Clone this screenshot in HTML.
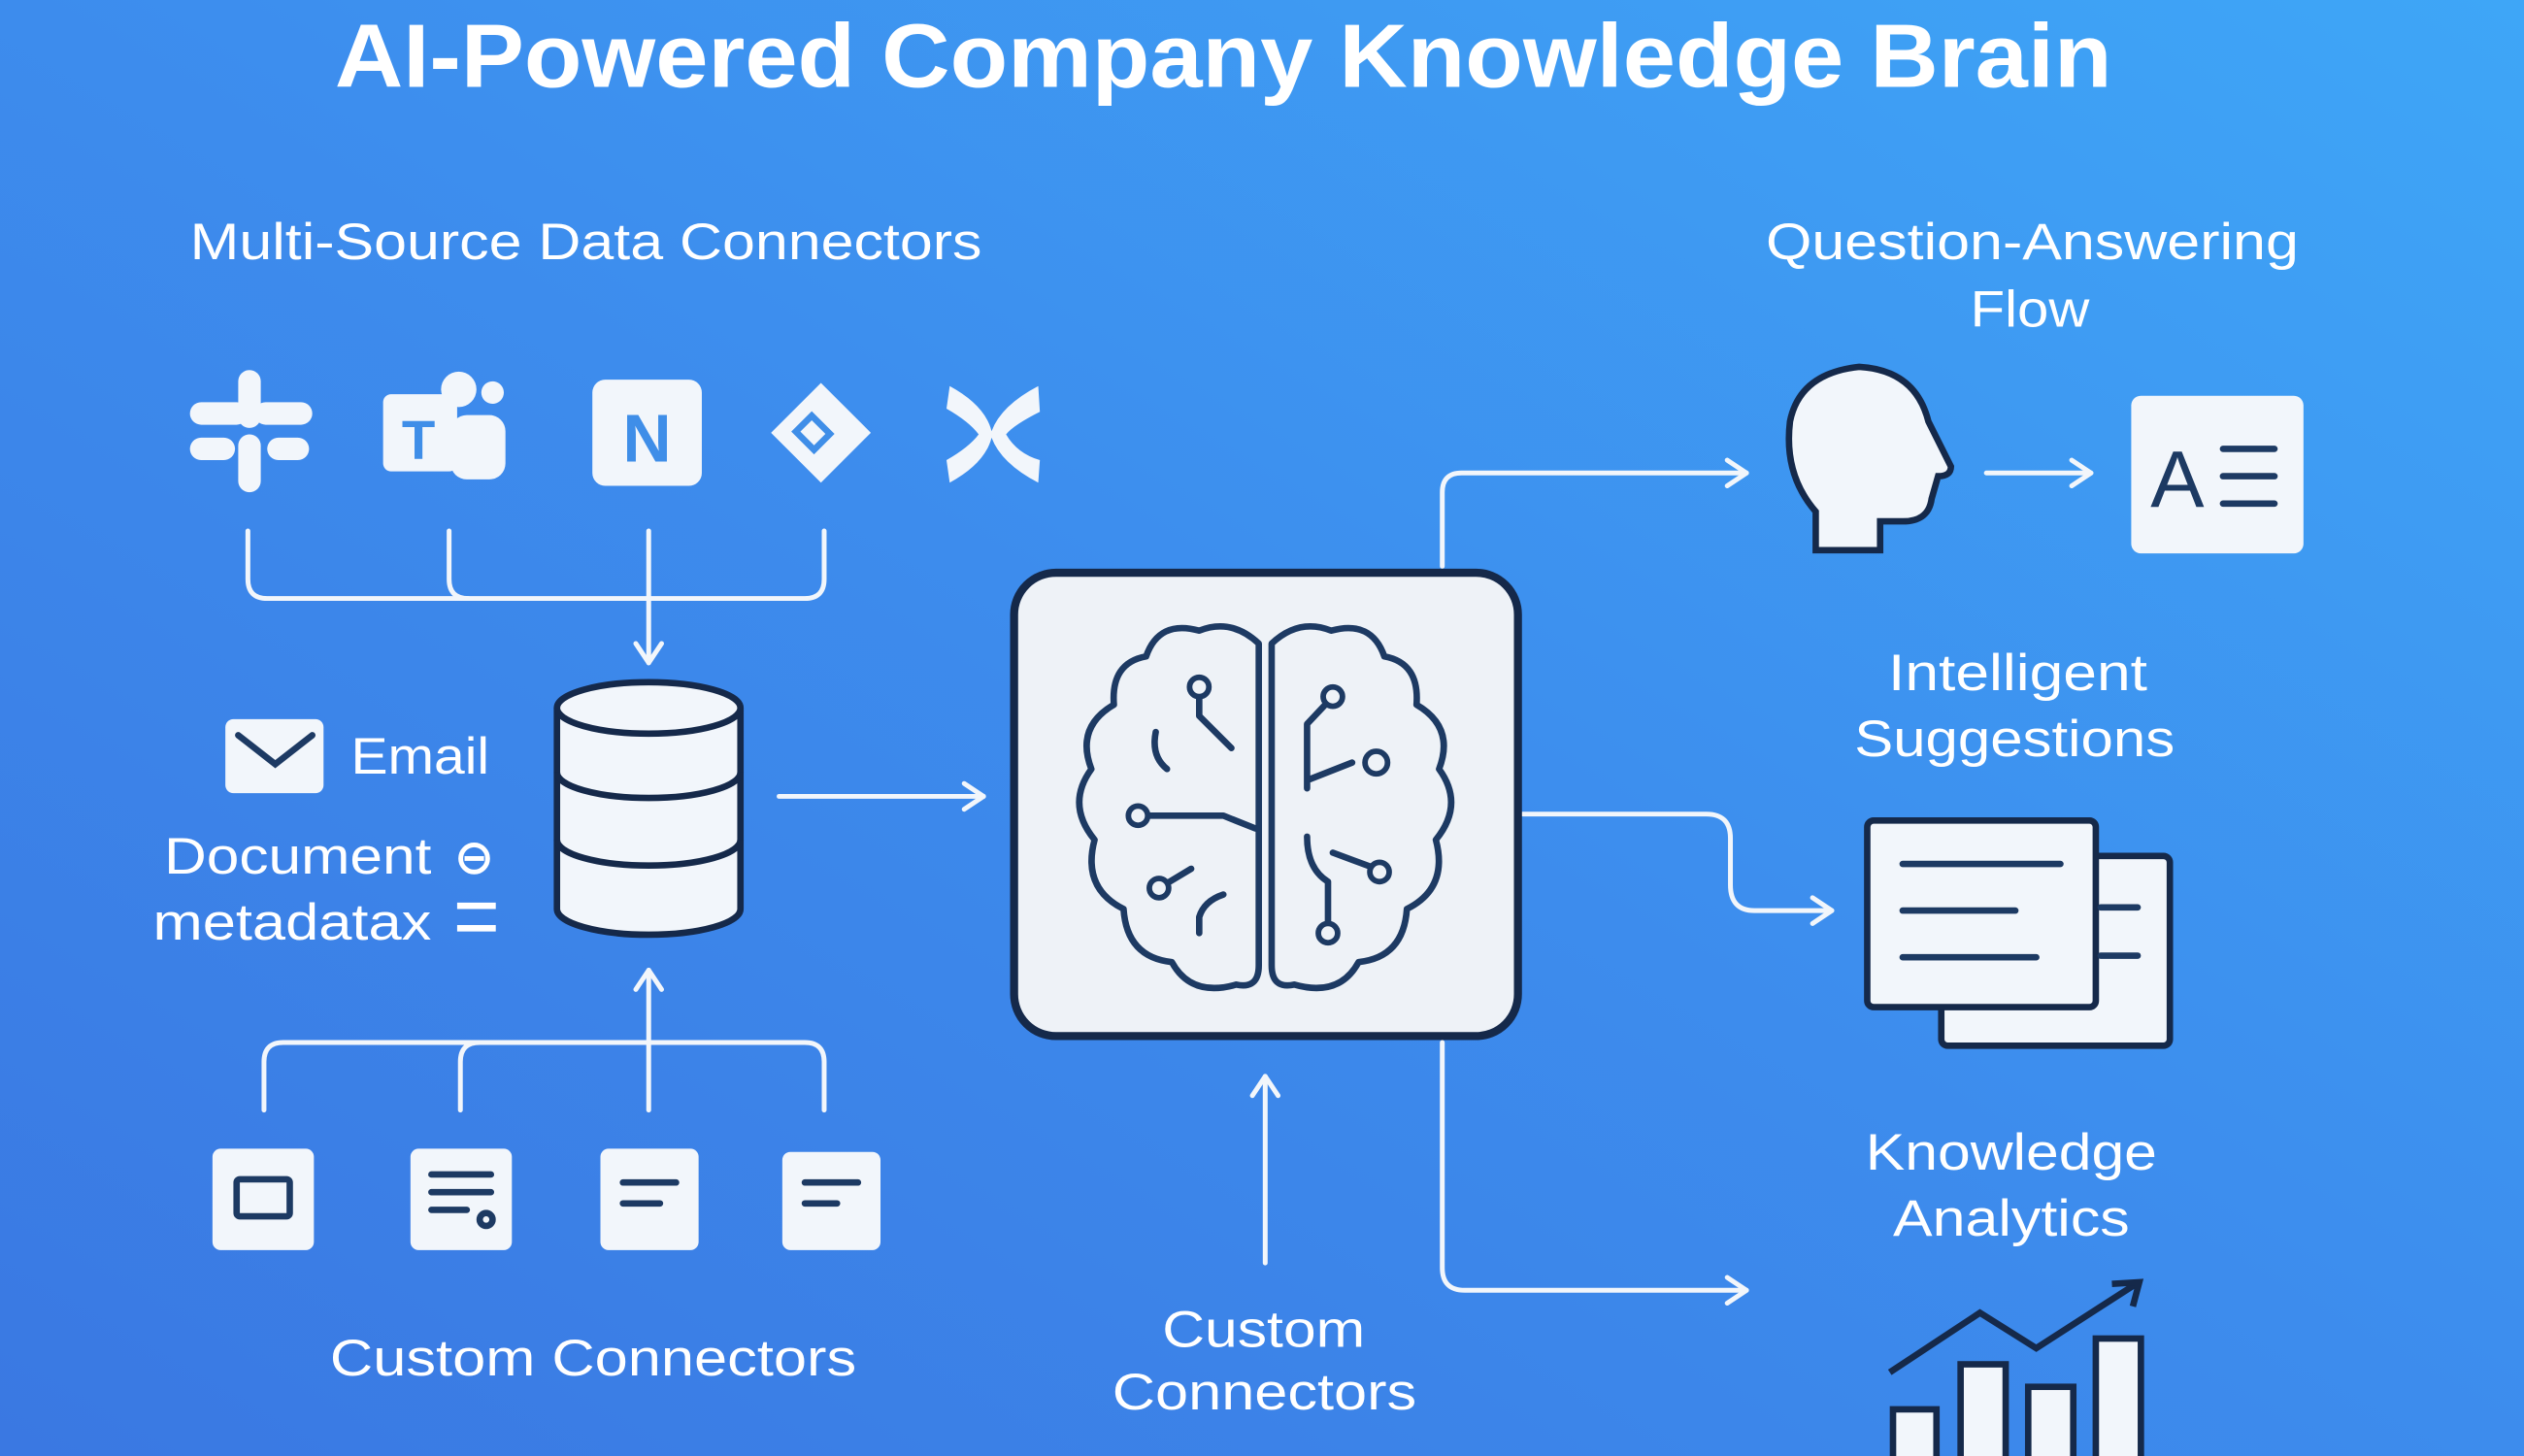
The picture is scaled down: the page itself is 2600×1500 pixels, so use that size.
<!DOCTYPE html>
<html><head><meta charset="utf-8"><style>
html,body{margin:0;padding:0;width:2600px;height:1500px;overflow:hidden}
svg{display:block}
text{font-family:"Liberation Sans","DejaVu Sans",sans-serif;fill:#fff}
</style></head><body>
<svg width="2600" height="1500" viewBox="0 0 1568 905" preserveAspectRatio="none" xmlns="http://www.w3.org/2000/svg">
<defs>
<linearGradient id="bg" x1="0" y1="1" x2="1" y2="0">
<stop offset="0" stop-color="#3a78e2"/><stop offset="0.5" stop-color="#3d8ced"/><stop offset="1" stop-color="#3ea6f7"/>
</linearGradient>
<marker id="ah" viewBox="0 0 16 20" refX="14" refY="10" markerWidth="16" markerHeight="20" markerUnits="userSpaceOnUse" orient="auto">
<path d="M2 2 L14 10 L2 18" fill="none" stroke="#f2f6fb" stroke-width="3" stroke-linecap="round" stroke-linejoin="round"/>
</marker>
</defs>
<rect width="1568" height="905" fill="url(#bg)"/>
<text x="208" y="54" font-size="56" font-weight="bold" textLength="1104" lengthAdjust="spacingAndGlyphs">AI-Powered Company Knowledge Brain</text>
<text x="118" y="161" font-size="32" textLength="492" lengthAdjust="spacingAndGlyphs">Multi-Source Data Connectors</text>
<text x="1097" y="161" font-size="32" textLength="331" lengthAdjust="spacingAndGlyphs">Question-Answering</text>
<text x="1224" y="203" font-size="32" textLength="74" lengthAdjust="spacingAndGlyphs">Flow</text>
<text x="1173" y="429" font-size="32" textLength="161" lengthAdjust="spacingAndGlyphs">Intelligent</text>
<text x="1152" y="470" font-size="32" textLength="199" lengthAdjust="spacingAndGlyphs">Suggestions</text>
<text x="1159" y="727" font-size="32" textLength="181" lengthAdjust="spacingAndGlyphs">Knowledge</text>
<text x="1176" y="768" font-size="32" textLength="147" lengthAdjust="spacingAndGlyphs">Analytics</text>
<text x="205" y="855" font-size="32" textLength="327" lengthAdjust="spacingAndGlyphs">Custom Connectors</text>
<text x="722" y="837" font-size="32" textLength="126" lengthAdjust="spacingAndGlyphs">Custom</text>
<text x="691" y="876" font-size="32" textLength="189" lengthAdjust="spacingAndGlyphs">Connectors</text>
<text x="218" y="481" font-size="32" textLength="86" lengthAdjust="spacingAndGlyphs">Email</text>
<text x="102" y="543" font-size="32" textLength="166" lengthAdjust="spacingAndGlyphs">Document</text>
<text x="95" y="584" font-size="32" textLength="173" lengthAdjust="spacingAndGlyphs">metadatax</text>

<g fill="#f2f6fb">
<rect x="148" y="230" width="14" height="36" rx="7"/><rect x="148" y="270" width="14" height="36" rx="7"/>
<rect x="118" y="250" width="36" height="14" rx="7"/><rect x="158" y="250" width="36" height="14" rx="7"/>
<rect x="118" y="272" width="28" height="14" rx="7"/><rect x="166" y="272" width="26" height="14" rx="7"/>
<rect x="238" y="245" width="46" height="48" rx="5"/><circle cx="285" cy="242" r="11"/><rect x="280" y="258" width="34" height="40" rx="10"/><circle cx="306" cy="244" r="7"/>
<rect x="368" y="236" width="68" height="66" rx="8"/>
<path d="M510 238 L541 269 L510 300 L479 269Z"/>
<path d="M590 240 Q612 252 616 268 Q622 252 645 240 L646 256 Q630 264 625 270 Q632 282 646 286 L645 300 Q622 288 616 272 Q612 288 590 300 L588 286 Q602 278 608 270 Q602 262 588 254Z"/>
<rect x="140" y="447" width="61" height="46" rx="5"/>
<rect x="132" y="714" width="63" height="63" rx="5"/>
<rect x="255" y="714" width="63" height="63" rx="5"/>
<rect x="373" y="714" width="61" height="63" rx="5"/>
<rect x="486" y="716" width="61" height="61" rx="5"/>
<rect x="1324" y="246" width="107" height="98" rx="6"/>
</g>
<text x="402" y="287" font-size="42" font-weight="bold" text-anchor="middle" style="fill:#3f8ee8">N</text>
<text x="260" y="285" font-size="34" font-weight="bold" text-anchor="middle" style="fill:#3f8ee8">T</text>
<text x="1336" y="315" font-size="50" style="fill:#1d3a63">A</text>
<g fill="none" stroke="#1d3a63" stroke-width="4" stroke-linecap="round">
<rect x="497" y="262" width="16" height="14" stroke="#3f8ee8" transform="rotate(45 505 269)"/>
<path d="M148 457 L171 475 L194 457"/>
<rect x="147" y="733" width="33" height="23" rx="2"/>
<path d="M268 730 H305 M268 741 H305 M268 752 H290"/><circle cx="302" cy="758" r="4"/>
<path d="M387 735 H420 M387 748 H410"/>
<path d="M500 735 H533 M500 748 H520"/>
<path d="M1381 279 H1413 M1381 296 H1413 M1381 313 H1413"/>
</g>
<text x="282" y="543" font-size="30" font-weight="bold">⊖</text>
<path d="M284 563 H308 M284 577 H308" stroke="#fff" stroke-width="4"/>

<g fill="none" stroke="#f2f6fb" stroke-width="3" stroke-linecap="round">
<path d="M154 330 V360 Q154 372 166 372 H500 Q512 372 512 360 V330"/>
<path d="M279 330 V360 Q279 372 291 372"/>
<path d="M403 330 V412" marker-end="url(#ah)"/>
<path d="M164 690 V660 Q164 648 176 648 H500 Q512 648 512 660 V690"/>
<path d="M286 690 V660 Q286 648 298 648"/>
<path d="M403 690 V603" marker-end="url(#ah)"/>
<path d="M484 495 H611" marker-end="url(#ah)"/>
<path d="M896 352 V306 Q896 294 908 294 H1085" marker-end="url(#ah)"/>
<path d="M1234 294 H1299" marker-end="url(#ah)"/>
<path d="M946 506 H1060 Q1075 506 1075 521 V550 Q1075 566 1090 566 H1138" marker-end="url(#ah)"/>
<path d="M896 648 V788 Q896 802 910 802 H1085" marker-end="url(#ah)"/>
<path d="M786 785 V669" marker-end="url(#ah)"/>
</g>

<g fill="#f2f6fb" stroke="#15294a" stroke-width="4">
<path d="M346 440 V565 A57 16 0 0 0 460 565 V440"/>
<path d="M346 480 A57 16 0 0 0 460 480 M346 522 A57 16 0 0 0 460 522" fill="none"/>
<ellipse cx="403" cy="440" rx="57" ry="16"/>
</g>

<rect x="630" y="356" width="313" height="288" rx="26" fill="#eef2f7" stroke="#15294a" stroke-width="5"/>
<g fill="none" stroke="#1d3a63" stroke-width="4" stroke-linecap="round" stroke-linejoin="round">
<path d="M782 400 Q765 384 745 392 Q720 385 712 408 Q690 412 692 438 Q668 452 678 478 Q662 500 680 522 Q672 552 698 565 Q700 595 728 598 Q740 620 768 612 Q782 615 782 600 Z"/>
<path d="M790 400 Q807 384 827 392 Q852 385 860 408 Q882 412 880 438 Q904 452 894 478 Q910 500 892 522 Q900 552 874 565 Q872 595 844 598 Q832 620 804 612 Q790 615 790 600 Z"/>
<path d="M745 430 V445 L765 465 M707 507 H760 L780 515 M720 552 L740 540 M745 580 V570 Q748 560 760 556 M718 455 Q715 470 725 478"/>
<path d="M828 433 L812 450 V490 M812 485 L840 474 M812 520 Q812 540 825 548 L825 578 M828 530 L855 540"/>
</g>
<g fill="#eef2f7" stroke="#1d3a63" stroke-width="3.5">
<circle cx="745" cy="427" r="6"/><circle cx="707" cy="507" r="6"/><circle cx="720" cy="552" r="6"/>
<circle cx="828" cy="433" r="6"/><circle cx="855" cy="474" r="7"/><circle cx="857" cy="542" r="6"/><circle cx="825" cy="580" r="6"/>
</g>

<path d="M1128 342 V318 Q1108 295 1112 262 Q1118 232 1155 228 Q1190 230 1198 262 L1212 290 Q1212 296 1204 296 L1200 310 Q1198 325 1180 324 L1168 324 V342 Z" fill="#f2f6fb" stroke="#15294a" stroke-width="4"/>

<rect x="1206" y="532" width="142" height="118" rx="4" fill="#f2f6fb" stroke="#15294a" stroke-width="4"/>
<rect x="1160" y="510" width="142" height="116" rx="4" fill="#f2f6fb" stroke="#15294a" stroke-width="4"/>
<g stroke="#1d3a63" stroke-width="4" stroke-linecap="round">
<path d="M1182 537 H1280 M1182 566 H1252 M1182 595 H1265 M1305 564 H1328 M1305 594 H1328"/>
</g>

<g fill="#f2f6fb" stroke="#15294a" stroke-width="4">
<rect x="1176" y="876" width="27" height="35"/><rect x="1218" y="848" width="28" height="63"/><rect x="1260" y="862" width="28" height="49"/><rect x="1302" y="832" width="28" height="79"/>
</g>
<path d="M1174 853 L1230 816 L1265 838 L1327 798" fill="none" stroke="#15294a" stroke-width="4"/>
<path d="M1312 798 L1329 797 L1325 812" fill="none" stroke="#15294a" stroke-width="4"/>
</svg>
</body></html>
